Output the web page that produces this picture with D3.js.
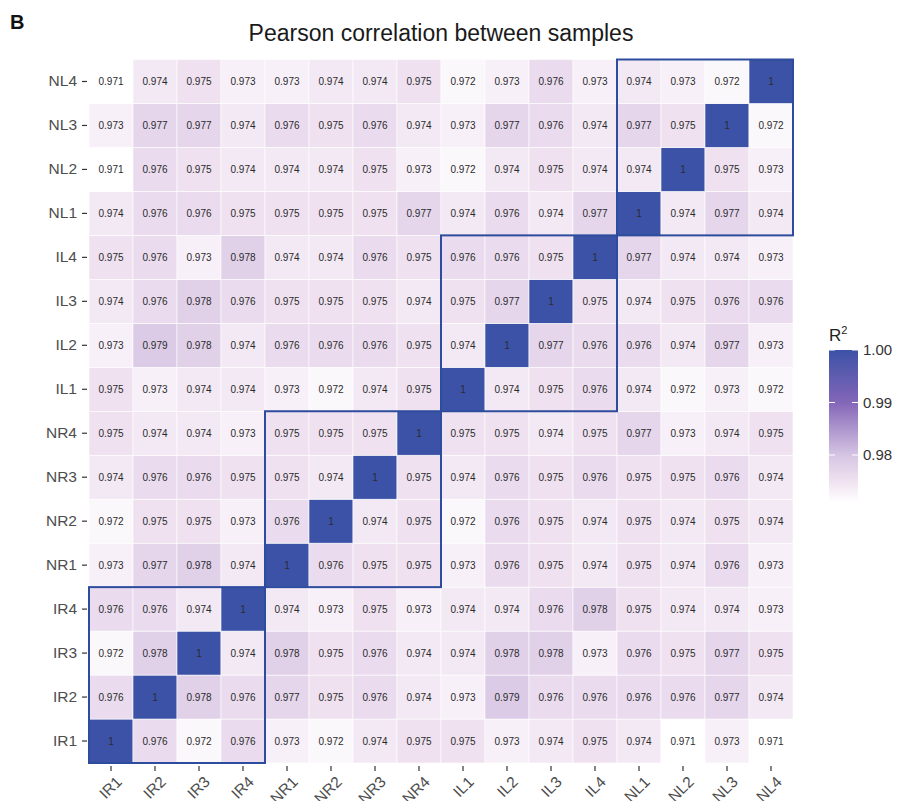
<!DOCTYPE html>
<html>
<head>
<meta charset="utf-8">
<script src="https://cdn.jsdelivr.net/npm/d3@7"></script>
<style>
  body { margin: 0; background: #fff; }
  svg { font-family: "Liberation Sans", Arial, sans-serif; }
</style>
</head>
<body>
<svg id="chart" width="902" height="801"></svg>
<script>
const samples = ['IR1','IR2','IR3','IR4','NR1','NR2','NR3','NR4','IL1','IL2','IL3','IL4','NL1','NL2','NL3','NL4'];
const groups = ['IR','NR','IL','NL'];

// one row per sample (row label), columns in the same order as samples
const corr = [
  /* IR1 */ [1, 0.976, 0.972, 0.976, 0.973, 0.972, 0.974, 0.975, 0.975, 0.973, 0.974, 0.975, 0.974, 0.971, 0.973, 0.971],
  /* IR2 */ [0.976, 1, 0.978, 0.976, 0.977, 0.975, 0.976, 0.974, 0.973, 0.979, 0.976, 0.976, 0.976, 0.976, 0.977, 0.974],
  /* IR3 */ [0.972, 0.978, 1, 0.974, 0.978, 0.975, 0.976, 0.974, 0.974, 0.978, 0.978, 0.973, 0.976, 0.975, 0.977, 0.975],
  /* IR4 */ [0.976, 0.976, 0.974, 1, 0.974, 0.973, 0.975, 0.973, 0.974, 0.974, 0.976, 0.978, 0.975, 0.974, 0.974, 0.973],
  /* NR1 */ [0.973, 0.977, 0.978, 0.974, 1, 0.976, 0.975, 0.975, 0.973, 0.976, 0.975, 0.974, 0.975, 0.974, 0.976, 0.973],
  /* NR2 */ [0.972, 0.975, 0.975, 0.973, 0.976, 1, 0.974, 0.975, 0.972, 0.976, 0.975, 0.974, 0.975, 0.974, 0.975, 0.974],
  /* NR3 */ [0.974, 0.976, 0.976, 0.975, 0.975, 0.974, 1, 0.975, 0.974, 0.976, 0.975, 0.976, 0.975, 0.975, 0.976, 0.974],
  /* NR4 */ [0.975, 0.974, 0.974, 0.973, 0.975, 0.975, 0.975, 1, 0.975, 0.975, 0.974, 0.975, 0.977, 0.973, 0.974, 0.975],
  /* IL1 */ [0.975, 0.973, 0.974, 0.974, 0.973, 0.972, 0.974, 0.975, 1, 0.974, 0.975, 0.976, 0.974, 0.972, 0.973, 0.972],
  /* IL2 */ [0.973, 0.979, 0.978, 0.974, 0.976, 0.976, 0.976, 0.975, 0.974, 1, 0.977, 0.976, 0.976, 0.974, 0.977, 0.973],
  /* IL3 */ [0.974, 0.976, 0.978, 0.976, 0.975, 0.975, 0.975, 0.974, 0.975, 0.977, 1, 0.975, 0.974, 0.975, 0.976, 0.976],
  /* IL4 */ [0.975, 0.976, 0.973, 0.978, 0.974, 0.974, 0.976, 0.975, 0.976, 0.976, 0.975, 1, 0.977, 0.974, 0.974, 0.973],
  /* NL1 */ [0.974, 0.976, 0.976, 0.975, 0.975, 0.975, 0.975, 0.977, 0.974, 0.976, 0.974, 0.977, 1, 0.974, 0.977, 0.974],
  /* NL2 */ [0.971, 0.976, 0.975, 0.974, 0.974, 0.974, 0.975, 0.973, 0.972, 0.974, 0.975, 0.974, 0.974, 1, 0.975, 0.973],
  /* NL3 */ [0.973, 0.977, 0.977, 0.974, 0.976, 0.975, 0.976, 0.974, 0.973, 0.977, 0.976, 0.974, 0.977, 0.975, 1, 0.972],
  /* NL4 */ [0.971, 0.974, 0.975, 0.973, 0.973, 0.974, 0.974, 0.975, 0.972, 0.973, 0.976, 0.973, 0.974, 0.973, 0.972, 1]
];
const legendTicks = [0.98, 0.99, 1.00];

const svg = d3.select('#chart');

// flatten matrix into cells
const cells = [];
corr.forEach((row, i) => {
  row.forEach((v, j) => cells.push({ row: samples[i], col: samples[j], value: v }));
});

const x = d3.scaleBand().domain(samples).range([89, 793]);
const y = d3.scaleBand().domain(samples.slice().reverse()).range([59.5, 763]);

const vmin = d3.min(cells, d => d.value);
const stops = [0, 0.14, 0.31, 0.655, 1].map(t => vmin + t * (1 - vmin));
const color = d3.scaleLinear()
  .domain(stops)
  .range(['#ffffff', '#efe1f0', '#d6c5e3', '#8466b8', '#3b52a7'])
  .interpolate(d3.interpolateRgb);

// tiles
svg.append('g').selectAll('rect')
  .data(cells)
  .join('rect')
    .attr('x', d => x(d.col))
    .attr('y', d => y(d.row))
    .attr('width', x.bandwidth())
    .attr('height', y.bandwidth())
    .attr('fill', d => color(d.value))
    .attr('stroke', '#fff')
    .attr('stroke-width', 0.6);

// values in tiles
svg.append('g').selectAll('text')
  .data(cells)
  .join('text')
    .attr('x', d => x(d.col) + x.bandwidth() / 2)
    .attr('y', d => y(d.row) + y.bandwidth() / 2)
    .attr('dy', '0.35em')
    .attr('text-anchor', 'middle')
    .attr('font-size', 10)
    .attr('fill', '#2b2b2b')
    .text(d => String(d.value));

// group boxes along the diagonal
svg.append('g').selectAll('rect')
  .data(groups)
  .join('rect')
    .attr('x', g => x(g + '1'))
    .attr('y', g => y(g + '4'))
    .attr('width', x.bandwidth() * 4)
    .attr('height', y.bandwidth() * 4)
    .attr('fill', 'none')
    .attr('stroke', '#2e4c9d')
    .attr('stroke-width', 2);

// axes
const yAxis = svg.append('g')
  .attr('transform', 'translate(87,0)')
  .call(d3.axisLeft(y).tickSize(5).tickPadding(5));
yAxis.select('.domain').remove();
yAxis.selectAll('line').attr('stroke', '#333').attr('stroke-width', 1.2);
yAxis.selectAll('text').attr('font-size', 15.5).attr('fill', '#4d4d4d')
  .attr('font-family', '"Liberation Sans", Arial, sans-serif');

const xAxis = svg.append('g')
  .attr('transform', 'translate(0,766)')
  .call(d3.axisBottom(x).tickSize(5).tickPadding(3));
xAxis.select('.domain').remove();
xAxis.selectAll('line').attr('stroke', '#333').attr('stroke-width', 1.2);
xAxis.selectAll('text')
  .attr('font-size', 15.5).attr('fill', '#4d4d4d')
  .attr('font-family', '"Liberation Sans", Arial, sans-serif')
  .attr('text-anchor', 'end')
  .attr('y', 0).attr('dy', '0.71em')
  .attr('transform', 'translate(4,9) rotate(-45)');

// title and panel letter
svg.append('text')
  .attr('x', 441).attr('y', 41)
  .attr('text-anchor', 'middle')
  .attr('font-size', 23).attr('fill', '#1a1a1a')
  .text('Pearson correlation between samples');
svg.append('text')
  .attr('x', 10).attr('y', 29)
  .attr('font-size', 20).attr('font-weight', 'bold').attr('fill', '#111')
  .text('B');

// colour bar legend
const barTop = 350, barH = (1 - vmin) * 5250;
const ly = d3.scaleLinear().domain([vmin, 1]).range([barTop + barH, barTop]);
const grad = svg.append('defs').append('linearGradient')
  .attr('id', 'bar').attr('x1', 0).attr('y1', 1).attr('x2', 0).attr('y2', 0);
d3.range(0, 1.0001, 0.05).forEach(t => {
  grad.append('stop').attr('offset', t).attr('stop-color', color(vmin + t * (1 - vmin)));
});
svg.append('rect')
  .attr('x', 829).attr('y', barTop).attr('width', 29).attr('height', barH)
  .attr('fill', 'url(#bar)');
const lt = svg.append('g').selectAll('g').data(legendTicks).join('g');
lt.append('line')
  .attr('x1', 829).attr('x2', 835)
  .attr('y1', d => ly(d)).attr('y2', d => ly(d))
  .attr('stroke', '#fff').attr('stroke-width', 1);
lt.append('line')
  .attr('x1', 852).attr('x2', 858)
  .attr('y1', d => ly(d)).attr('y2', d => ly(d))
  .attr('stroke', '#fff').attr('stroke-width', 1);
lt.append('text')
  .attr('x', 863).attr('y', d => ly(d)).attr('dy', '0.35em')
  .attr('font-size', 15).attr('fill', '#333')
  .text(d => d.toFixed(2));
const rt = svg.append('text').attr('x', 829).attr('y', 341)
  .attr('font-size', 17).attr('fill', '#222');
rt.append('tspan').text('R');
rt.append('tspan').attr('font-size', 11).attr('dy', -7).text('2');
</script>
</body>
</html>
